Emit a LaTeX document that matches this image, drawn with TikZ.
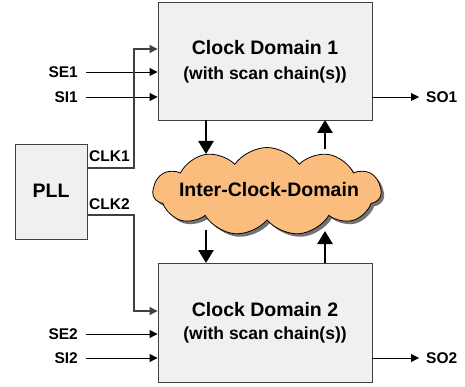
\documentclass[tikz,border=0pt]{standalone}
\usepackage{fontspec}
\setmainfont{Liberation Sans}
\usetikzlibrary{arrows.meta,shapes.symbols,shadows}
\begin{document}
\begin{tikzpicture}[x=1pt,y=-1pt,
  blockbox/.style={draw=black!75,line width=0.9pt,fill=black!6,inner sep=0pt},
  lbl/.style={font=\bfseries\fontsize{15.5}{16}\selectfont,inner sep=0pt},
  thin/.style={line width=0.9pt,-{Triangle[length=8pt,width=8pt]}},
  clkline/.style={draw=black!75,line width=1.1pt,-{Triangle[length=8pt,width=8pt]}},
  thick/.style={line width=2.6pt,-{Triangle[length=13pt,width=15pt]}}]
\useasboundingbox (0,0) rectangle (465,387);
% blocks
\node[blockbox,minimum width=214pt,minimum height=118pt] (cd1) at (265,61) {};
\node[blockbox,minimum width=214pt,minimum height=119pt] (cd2) at (265,322.5) {};
\node[blockbox,minimum width=72pt,minimum height=95pt] (pll) at (51,191.5) {};
\node[font=\bfseries\fontsize{19.5}{20}\selectfont] (plllbl) at (51,191) {PLL};
\node[font=\bfseries\fontsize{19.5}{20}\selectfont] (t1) at (265,48) {Clock Domain 1};
\node[font=\bfseries\fontsize{17.5}{18}\selectfont] (s1) at (265,75) {(with scan chain(s))};
\node[font=\bfseries\fontsize{19.5}{20}\selectfont] (t2) at (265,310) {Clock Domain 2};
\node[font=\bfseries\fontsize{17.5}{18}\selectfont] (s2) at (265,335) {(with scan chain(s))};
% cloud
\node[cloud,cloud puffs=11,cloud puff arc=110,aspect=2.6,draw=black,line width=0.8pt,
  fill={rgb,255:red,251;green,189;blue,126},
  drop shadow={shadow xshift=3pt,shadow yshift=-3pt,fill=black!55,opacity=1},
  minimum width=228pt,minimum height=88pt,inner sep=0pt] (cloud) at (267,191.5) {};
\node[font=\bfseries\fontsize{19.5}{20}\selectfont] (cloudlbl) at (269,190) {Inter-Clock-Domain};
% input labels
\node[lbl,anchor=east] (se1) at (78,72) {SE1};
\node[lbl,anchor=east] (si1) at (78,97) {SI1};
\node[lbl,anchor=east] (se2) at (78,334) {SE2};
\node[lbl,anchor=east] (si2) at (78,358) {SI2};
\node[lbl,anchor=west] (so1) at (426,97) {SO1};
\node[lbl,anchor=west] (so2) at (426,358) {SO2};
\node[lbl,anchor=west] (clk1) at (89,156) {CLK1};
\node[lbl,anchor=west] (clk2) at (89,204) {CLK2};
% coordinates
\coordinate (se1e) at (86,72);
\coordinate (si1e) at (86,97);
\coordinate (se2e) at (86,334);
\coordinate (si2e) at (86,358);
\draw[thin] (se1e) -- (se1e -| cd1.west);
\draw[thin] (si1e) -- (si1e -| cd1.west);
\draw[thin] (se2e) -- (se2e -| cd2.west);
\draw[thin] (si2e) -- (si2e -| cd2.west);
\coordinate (so1s) at (372,97);
\coordinate (so1e) at (419,97);
\coordinate (so2s) at (372,358);
\coordinate (so2e) at (419,358);
\draw[thin] (so1s) -- (so1e);
\draw[thin] (so2s) -- (so2e);
% clock lines
\coordinate (c1a) at (87,168);
\coordinate (c1b) at (134,168);
\coordinate (c1c) at (134,49);
\draw[clkline] (c1a) -- (c1b) -- (c1c) -- (c1c -| cd1.west);
\coordinate (c2a) at (87,215);
\coordinate (c2b) at (134,215);
\coordinate (c2c) at (134,311);
\draw[clkline] (c2a) -- (c2b) -- (c2c) -- (c2c -| cd2.west);
% thick arrows
\coordinate (d1s) at (206,120);
\coordinate (d1e) at (206,154);
\coordinate (u1s) at (325,149);
\coordinate (u1e) at (325,120);
\coordinate (d2s) at (206,230);
\coordinate (d2e) at (206,263);
\coordinate (u2s) at (325,231);
\coordinate (u2e) at (325,263);
\draw[thick] (d1s) -- (d1e);
\draw[thick] (u1s) -- (u1e);
\draw[thick] (d2s) -- (d2e);
\draw[thick] (u2e) -- (u2s);
\end{tikzpicture}
\end{document}
